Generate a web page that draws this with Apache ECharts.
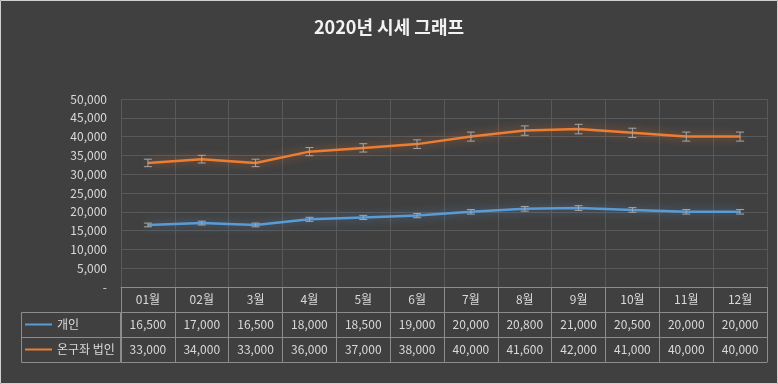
<!DOCTYPE html>
<html><head><meta charset="utf-8">
<script src="https://cdn.jsdelivr.net/npm/echarts@6/dist/echarts.min.js"></script>
<style>html,body{margin:0;padding:0;background:#404040;}#c{width:778px;height:384px;}</style>
</head><body><div id="c"></div>
<script>
const months = ['01월','02월','3월','4월','5월','6월','7월','8월','9월','10월','11월','12월'];
const personal = [16500,17000,16500,18000,18500,19000,20000,20800,21000,20500,20000,20000];
const corporate = [33000,34000,33000,36000,37000,38000,40000,41600,42000,41000,40000,40000];
const seriesNames = ['개인','온구좌 법인'];
const errorPct = 0.03;
const yTicks = {min:0, max:50000, interval:5000};

const fmt = v => v === 0 ? '-' : v.toLocaleString('en-US');
const FONT = '"Noto Sans CJK KR","Noto Sans",sans-serif';
const TXT = '#d9d9d9';
const BORDER = '#8c8c8c';
const chart = echarts.init(document.getElementById('c'), null, {renderer:'canvas'});

function errBar(color){
  return function(params, api){
    const x = api.value(0), y = api.value(1);
    const hi = api.coord([x, y*(1+errorPct)]);
    const lo = api.coord([x, y*(1-errorPct)]);
    const w = 4;
    const st = {stroke: color, lineWidth: 1};
    return {type:'group', children:[
      {type:'line', shape:{x1:hi[0],y1:hi[1],x2:lo[0],y2:lo[1]}, style:st},
      {type:'line', shape:{x1:hi[0]-w,y1:hi[1],x2:hi[0]+w,y2:hi[1]}, style:st},
      {type:'line', shape:{x1:lo[0]-w,y1:lo[1],x2:lo[0]+w,y2:lo[1]}, style:st}
    ]};
  };
}

function tableAxis(offset, formatter, showLabel){
  return {
    type:'category', data: months, position:'bottom', offset: offset, gridIndex:0,
    boundaryGap:true,
    axisLine:{show:true, lineStyle:{color:BORDER, width:1}},
    axisTick:{show:showLabel, length:25, interval:0, lineStyle:{color:BORDER}},
    axisLabel:{show:showLabel, interval:0, margin:0, lineHeight:25, color:TXT, fontSize:12, fontFamily:FONT, formatter: formatter},
    splitLine:{show:false}
  };
}

const xAxes = [
  Object.assign(tableAxis(0, v => v, true), {splitLine:{show:true, interval:0, lineStyle:{color:'#595959'}}}),
  tableAxis(25, (v,i) => fmt(personal[i]), true),
  tableAxis(50, (v,i) => fmt(corporate[i]), true),
  tableAxis(75, v => '', false)
];

chart.setOption({
  backgroundColor:'#404040',
  animation:false,
  title:{text:'2020년 시세 그래프', left:'center', top:13,
    textStyle:{color:'#f2f2f2', fontSize:18, fontWeight:'bold', fontFamily:FONT}},
  grid:{left:121, right:11, top:99, bottom:97, containLabel:false},
  legend:{data:seriesNames, orient:'vertical', left:25, top:312, padding:0, itemGap:0,
    icon:'rect', itemWidth:27, itemHeight:2,
    textStyle:{color:TXT, fontSize:12, fontFamily:FONT, lineHeight:25, height:25}},
  xAxis: xAxes,
  yAxis:{type:'value', min:yTicks.min, max:yTicks.max, interval:yTicks.interval,
    axisLine:{show:false}, axisTick:{show:false},
    axisLabel:{color:TXT, fontSize:12, fontFamily:FONT, margin:14, formatter: fmt},
    splitLine:{lineStyle:{color:'#595959'}}},
  graphic:[
    {type:'rect', shape:{x:0.5,y:0.5,width:777,height:383}, style:{fill:null, stroke:'#d0d0d0', lineWidth:1}, silent:true},
    {type:'rect', shape:{x:21.5,y:312.5,width:99,height:50}, style:{fill:null, stroke:BORDER, lineWidth:1}, silent:true},
    {type:'line', shape:{x1:21.5,y1:337.5,x2:121,y2:337.5}, style:{stroke:BORDER, lineWidth:1}, silent:true}
  ],
  series:[
    {name:seriesNames[0], type:'line', data:personal, symbol:'none', z:3,
      itemStyle:{color:'#5b9bd5'},
      lineStyle:{color:'#5b9bd5', width:2.5, shadowBlur:10, shadowColor:'rgba(91,155,213,0.6)'}},
    {name:seriesNames[1], type:'line', data:corporate, symbol:'none', z:3,
      itemStyle:{color:'#ed7d31'},
      lineStyle:{color:'#ed7d31', width:2.5, shadowBlur:10, shadowColor:'rgba(237,125,49,0.6)'}},
    {type:'custom', renderItem: errBar('#a6a6a6'), data: personal.map((v,i)=>[i,v]), z:5, silent:true},
    {type:'custom', renderItem: errBar('#a6a6a6'), data: corporate.map((v,i)=>[i,v]), z:5, silent:true}
  ]
});
</script></body></html>
